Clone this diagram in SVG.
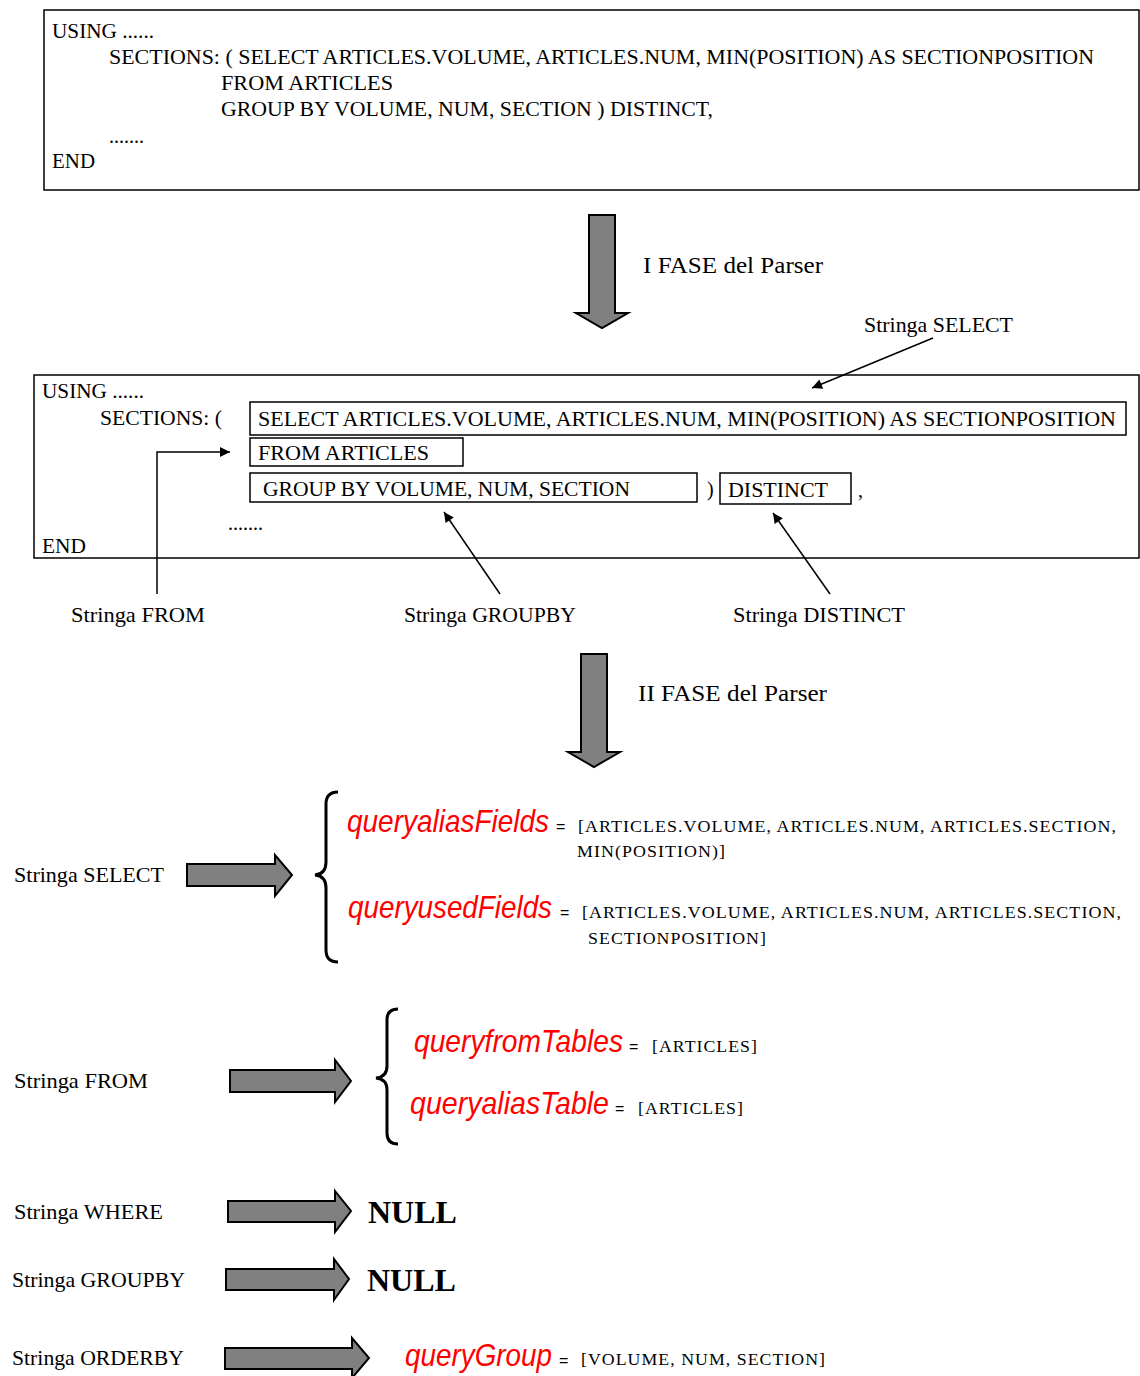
<svg xmlns="http://www.w3.org/2000/svg" width="1140" height="1376" viewBox="0 0 1140 1376">
  <style>
    .t { font-family: "Liberation Serif", "Times New Roman", serif; font-size: 20px; fill: #000; }
    .lbl { font-family: "Liberation Serif", "Times New Roman", serif; font-size: 21px; fill: #000; }
    .phase { font-family: "Liberation Serif", "Times New Roman", serif; font-size: 24px; fill: #000; }
    .var { font-family: "Liberation Sans", Arial, sans-serif; font-style: italic; font-size: 28px; fill: #ff0000; }
    .val { font-family: "Liberation Serif", "Times New Roman", serif; font-size: 17px; fill: #000; letter-spacing: 1px; }
    .eq { font-family: "Liberation Sans", Arial, sans-serif; font-size: 16px; fill: #000; }
    .null { font-family: "Liberation Serif", "Times New Roman", serif; font-size: 32px; font-weight: bold; fill: #000; }
    .box { fill: #fff; stroke: #000; stroke-width: 1.5; }
    .fat { fill: #808080; stroke: #000; stroke-width: 2; stroke-linejoin: miter; }
    .line { stroke: #000; stroke-width: 1.5; fill: none; }
    .brace { stroke: #000; stroke-width: 3; fill: none; }
  </style>
  <defs>
    <marker id="tip" viewBox="0 0 10 10" refX="10" refY="5" markerWidth="14" markerHeight="10" markerUnits="userSpaceOnUse" orient="auto">
      <path d="M0,0 L10,5 L0,10 z" fill="#000"/>
    </marker>
  </defs>

  <rect width="1140" height="1376" fill="#fff"/>

  <!-- original query -->
  <g id="query-source">
    <rect class="box" x="44" y="10" width="1095" height="180"/>
    <text class="t" x="52" y="38" textLength="102" lengthAdjust="spacingAndGlyphs">USING ......</text>
    <text class="t" x="109" y="64" textLength="985" lengthAdjust="spacingAndGlyphs">SECTIONS: ( SELECT ARTICLES.VOLUME, ARTICLES.NUM, MIN(POSITION) AS SECTIONPOSITION</text>
    <text class="t" x="221" y="90" textLength="172" lengthAdjust="spacingAndGlyphs">FROM ARTICLES</text>
    <text class="t" x="221" y="116" textLength="492" lengthAdjust="spacingAndGlyphs">GROUP BY VOLUME, NUM, SECTION ) DISTINCT,</text>
    <text class="t" x="109" y="143">.......</text>
    <text class="t" x="52" y="168" textLength="43" lengthAdjust="spacingAndGlyphs">END</text>
  </g>

  <!-- phase I arrow -->
  <g id="phase1">
    <path class="fat" d="M589,215 L615,215 L615,313 L628,313 L602,328 L576,313 L589,313 Z"/>
    <text class="phase" x="643" y="273" textLength="180" lengthAdjust="spacingAndGlyphs">I FASE del Parser</text>
  </g>

  <!-- split query -->
  <g id="query-split">
    <rect class="box" x="34" y="375" width="1105" height="183"/>
    <text class="t" x="42" y="398" textLength="102" lengthAdjust="spacingAndGlyphs">USING ......</text>
    <text class="t" x="100" y="425" textLength="122" lengthAdjust="spacingAndGlyphs">SECTIONS: (</text>
    <rect class="box" x="250" y="402" width="876" height="33"/>
    <text class="t" x="258" y="426" textLength="858" lengthAdjust="spacingAndGlyphs">SELECT ARTICLES.VOLUME, ARTICLES.NUM, MIN(POSITION) AS SECTIONPOSITION</text>
    <rect class="box" x="250" y="438" width="213" height="28"/>
    <text class="t" x="258" y="460" textLength="171" lengthAdjust="spacingAndGlyphs">FROM ARTICLES</text>
    <rect class="box" x="250" y="473" width="447" height="29"/>
    <text class="t" x="263" y="496" textLength="367" lengthAdjust="spacingAndGlyphs">GROUP BY VOLUME, NUM, SECTION</text>
    <text class="t" x="707" y="496">)</text>
    <rect class="box" x="720" y="473" width="131" height="31"/>
    <text class="t" x="728" y="497" textLength="100" lengthAdjust="spacingAndGlyphs">DISTINCT</text>
    <text class="t" x="858" y="497">,</text>
    <text class="t" x="228" y="530">.......</text>
    <text class="t" x="42" y="553" textLength="44" lengthAdjust="spacingAndGlyphs">END</text>
  </g>

  <!-- callout labels -->
  <g id="label-select"><text class="lbl" x="864" y="332" textLength="149" lengthAdjust="spacingAndGlyphs">Stringa SELECT</text></g>
  <g id="label-from"><text class="lbl" x="71" y="622" textLength="134" lengthAdjust="spacingAndGlyphs">Stringa FROM</text></g>
  <g id="label-groupby"><text class="lbl" x="404" y="622" textLength="172" lengthAdjust="spacingAndGlyphs">Stringa GROUPBY</text></g>
  <g id="label-distinct"><text class="lbl" x="733" y="622" textLength="172" lengthAdjust="spacingAndGlyphs">Stringa DISTINCT</text></g>

  <g id="callouts">
    <line class="line" x1="933" y1="338" x2="812" y2="388" marker-end="url(#tip)"/>
    <polyline class="line" points="157,594 157,452 230,452" marker-end="url(#tip)"/>
    <line class="line" x1="500" y1="594" x2="444" y2="512" marker-end="url(#tip)"/>
    <line class="line" x1="830" y1="594" x2="773" y2="513" marker-end="url(#tip)"/>
  </g>

  <!-- phase II arrow -->
  <g id="phase2">
    <path class="fat" d="M581,654 L607,654 L607,752 L620,752 L594,767 L568,752 L581,752 Z"/>
    <text class="phase" x="638" y="701" textLength="189" lengthAdjust="spacingAndGlyphs">II FASE del Parser</text>
  </g>

  <!-- SELECT result -->
  <g id="res-select">
    <text class="lbl" x="14" y="882" textLength="150" lengthAdjust="spacingAndGlyphs">Stringa SELECT</text>
    <path class="fat" d="M187,864 L275,864 L275,855 L292,875 L275,896 L275,886 L187,886 Z"/>
    <path class="brace" d="M338,792 Q326,792 326,804 L326,862 Q326,874 315,875 Q326,876 326,888 L326,950 Q326,962 338,962"/>
    <text class="var" transform="translate(347,832) scale(1,1.15)" textLength="202" lengthAdjust="spacingAndGlyphs">queryaliasFields</text>
    <text class="eq" x="556" y="832">=</text>
    <text class="val" x="578" y="832" textLength="539" lengthAdjust="spacingAndGlyphs">[ARTICLES.VOLUME, ARTICLES.NUM, ARTICLES.SECTION,</text>
    <text class="val" x="577" y="857" textLength="149" lengthAdjust="spacingAndGlyphs">MIN(POSITION)]</text>
    <text class="var" transform="translate(348,918) scale(1,1.15)" textLength="204" lengthAdjust="spacingAndGlyphs">queryusedFields</text>
    <text class="eq" x="560" y="918">=</text>
    <text class="val" x="582" y="918" textLength="540" lengthAdjust="spacingAndGlyphs">[ARTICLES.VOLUME, ARTICLES.NUM, ARTICLES.SECTION,</text>
    <text class="val" x="588" y="944" textLength="179" lengthAdjust="spacingAndGlyphs">SECTIONPOSITION]</text>
  </g>

  <!-- FROM result -->
  <g id="res-from">
    <text class="lbl" x="14" y="1088" textLength="134" lengthAdjust="spacingAndGlyphs">Stringa FROM</text>
    <path class="fat" d="M230,1070 L335,1070 L335,1060 L351,1081 L335,1102 L335,1092 L230,1092 Z"/>
    <path class="brace" d="M398,1009 Q387,1009 387,1020 L387,1066 Q387,1077 376,1078 Q387,1079 387,1090 L387,1133 Q387,1144 398,1144"/>
    <text class="var" transform="translate(414,1052) scale(1,1.15)" textLength="209" lengthAdjust="spacingAndGlyphs">queryfromTables</text>
    <text class="eq" x="629" y="1052">=</text>
    <text class="val" x="652" y="1052" textLength="106" lengthAdjust="spacingAndGlyphs">[ARTICLES]</text>
    <text class="var" transform="translate(410,1114) scale(1,1.15)" textLength="199" lengthAdjust="spacingAndGlyphs">queryaliasTable</text>
    <text class="eq" x="615" y="1114">=</text>
    <text class="val" x="638" y="1114" textLength="106" lengthAdjust="spacingAndGlyphs">[ARTICLES]</text>
  </g>

  <!-- WHERE result -->
  <g id="res-where">
    <text class="lbl" x="14" y="1219" textLength="149" lengthAdjust="spacingAndGlyphs">Stringa WHERE</text>
    <path class="fat" d="M228,1201 L335,1201 L335,1191 L351,1211 L335,1232 L335,1222 L228,1222 Z"/>
    <text class="null" x="368" y="1223">NULL</text>
  </g>

  <!-- GROUPBY result -->
  <g id="res-groupby">
    <text class="lbl" x="12" y="1287" textLength="173" lengthAdjust="spacingAndGlyphs">Stringa GROUPBY</text>
    <path class="fat" d="M226,1269 L334,1269 L334,1259 L349,1279 L334,1300 L334,1290 L226,1290 Z"/>
    <text class="null" x="367" y="1291">NULL</text>
  </g>

  <!-- ORDERBY result -->
  <g id="res-orderby">
    <text class="lbl" x="12" y="1365" textLength="172" lengthAdjust="spacingAndGlyphs">Stringa ORDERBY</text>
    <path class="fat" d="M225,1348 L352,1348 L352,1338 L369,1358 L352,1378 L352,1369 L225,1369 Z"/>
    <text class="var" transform="translate(405,1366) scale(1,1.15)" textLength="147" lengthAdjust="spacingAndGlyphs">queryGroup</text>
    <text class="eq" x="559" y="1366">=</text>
    <text class="val" x="581" y="1365" textLength="245" lengthAdjust="spacingAndGlyphs">[VOLUME, NUM, SECTION]</text>
  </g>
</svg>
